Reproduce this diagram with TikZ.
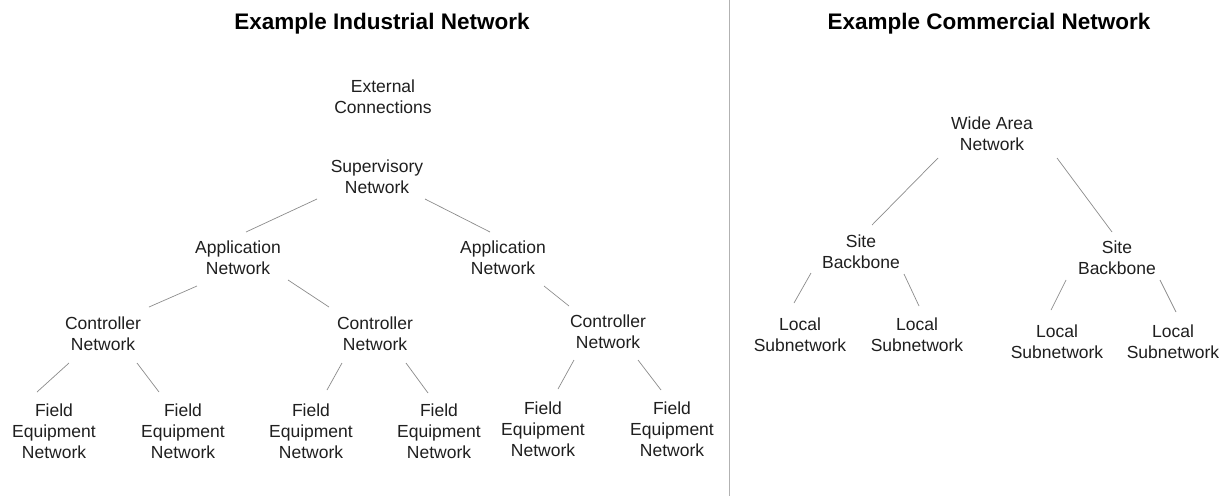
\documentclass[tikz,border=0pt]{standalone}
\usepackage{fontspec}
\setmainfont{Liberation Sans}
\begin{document}
\begin{tikzpicture}[x=1pt,y=-1pt,
  lbl/.style={align=center,inner sep=0pt,font=\fontsize{17.5}{21}\selectfont,text=black!88},
  ttl/.style={inner sep=0pt,font=\fontsize{22.5}{27}\selectfont\bfseries,text=black},
  link/.style={draw=black!45,line width=0.7pt},
  divider/.style={draw=black!30,line width=1pt}]
\useasboundingbox (0,0) rectangle (1231,496);
\fill[white] (0,0) rectangle (1231,496);

% titles and divider
\node[ttl] (t1) at (382,24) {Example Industrial Network};
\node[ttl] (t2) at (989,24) {Example Commercial Network};
\coordinate (dtop) at (729,0);
\coordinate (dbot) at (729,496);
\draw[divider] (dtop) -- (dbot);

% industrial network
\node[lbl] (ext)  at (383,97)  {External\\Connections};
\node[lbl] (sup)  at (377,177) {Supervisory\\Network};
\node[lbl] (appl) at (238,258) {Application\\Network};
\node[lbl] (appr) at (503,258) {Application\\Network};
\node[lbl] (c1)   at (103,334) {Controller\\Network};
\node[lbl] (c2)   at (375,334) {Controller\\Network};
\node[lbl] (c3)   at (608,332) {Controller\\Network};
\node[lbl] (f1)   at (54,431)  {Field\\Equipment\\Network};
\node[lbl] (f2)   at (183,431) {Field\\Equipment\\Network};
\node[lbl] (f3)   at (311,431) {Field\\Equipment\\Network};
\node[lbl] (f4)   at (439,431) {Field\\Equipment\\Network};
\node[lbl] (f5)   at (543,429) {Field\\Equipment\\Network};
\node[lbl] (f6)   at (672,429) {Field\\Equipment\\Network};

\draw[link] ([shift={(-60,22)}]sup.center)  -- ([shift={(8,-26)}]appl.center);
\draw[link] ([shift={(48,22)}]sup.center)   -- ([shift={(-13,-26)}]appr.center);
\draw[link] ([shift={(-41,28)}]appl.center) -- ([shift={(46,-27)}]c1.center);
\draw[link] ([shift={(50,22)}]appl.center)  -- ([shift={(-46,-27)}]c2.center);
\draw[link] ([shift={(41,28)}]appr.center)  -- ([shift={(-39,-26)}]c3.center);
\draw[link] ([shift={(-34,29)}]c1.center)   -- ([shift={(-17,-39)}]f1.center);
\draw[link] ([shift={(34,29)}]c1.center)    -- ([shift={(-24,-39)}]f2.center);
\draw[link] ([shift={(-33,29)}]c2.center)   -- ([shift={(16,-41)}]f3.center);
\draw[link] ([shift={(31,29)}]c2.center)    -- ([shift={(-11,-38)}]f4.center);
\draw[link] ([shift={(-34,28)}]c3.center)   -- ([shift={(15,-40)}]f5.center);
\draw[link] ([shift={(30,28)}]c3.center)    -- ([shift={(-11,-39)}]f6.center);

% commercial network
\node[lbl] (wan) at (992,134)  {Wide Area\\Network};
\node[lbl] (sbl) at (861,252)  {Site\\Backbone};
\node[lbl] (sbr) at (1117,258) {Site\\Backbone};
\node[lbl] (l1)  at (800,335)  {Local\\Subnetwork};
\node[lbl] (l2)  at (917,335)  {Local\\Subnetwork};
\node[lbl] (l3)  at (1057,342) {Local\\Subnetwork};
\node[lbl] (l4)  at (1173,342) {Local\\Subnetwork};

\draw[link] ([shift={(-54,24)}]wan.center) -- ([shift={(11,-27)}]sbl.center);
\draw[link] ([shift={(65,24)}]wan.center)  -- ([shift={(-5,-26)}]sbr.center);
\draw[link] ([shift={(-50,21)}]sbl.center) -- ([shift={(-6,-32)}]l1.center);
\draw[link] ([shift={(43,22)}]sbl.center)  -- ([shift={(2,-29)}]l2.center);
\draw[link] ([shift={(-51,22)}]sbr.center) -- ([shift={(-6,-32)}]l3.center);
\draw[link] ([shift={(43,22)}]sbr.center)  -- ([shift={(3,-30)}]l4.center);
\end{tikzpicture}
\end{document}
